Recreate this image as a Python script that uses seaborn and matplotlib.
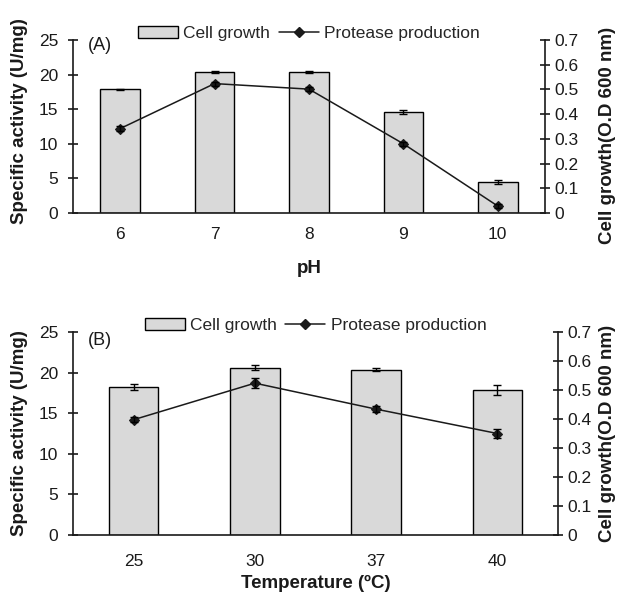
import numpy as np
import matplotlib
matplotlib.use("Agg")
import matplotlib.pyplot as plt
import seaborn as sns
from matplotlib.patches import Patch
from matplotlib.lines import Line2D

# ---- data ----
ph_labels = ["6", "7", "8", "9", "10"]
ph_growth = [0.50, 0.57, 0.57, 0.41, 0.125]          # OD 600 nm (bars, right axis)
ph_growth_err = [0.003, 0.004, 0.003, 0.008, 0.008]
ph_activity = [12.2, 18.7, 17.9, 10.0, 1.0]           # U/mg (line, left axis)
ph_activity_err = [0.3, 0.3, 0.3, 0.3, 0.3]

temp_labels = ["25", "30", "37", "40"]
temp_growth = [0.51, 0.577, 0.57, 0.50]
temp_growth_err = [0.010, 0.008, 0.006, 0.017]
temp_activity = [14.2, 18.7, 15.5, 12.5]
temp_activity_err = [0.3, 0.6, 0.4, 0.6]

left_ticks = [0, 5, 10, 15, 20, 25]
right_ticks = [0, 0.1, 0.2, 0.3, 0.4, 0.5, 0.6, 0.7]
right_ticklabels = ["0", "0.1", "0.2", "0.3", "0.4", "0.5", "0.6", "0.7"]

sns.set_theme(style="white")
plt.rcParams["font.family"] = ["Liberation Sans", "DejaVu Sans"]

W, H = 625, 602
fig = plt.figure(figsize=(W / 100, H / 100), dpi=100)

BAR_COLOR = "#d9d9d9"
LINE_COLOR = "#1a1a1a"


def panel(px_left, px_right, px_top, px_bottom, labels, growth, gerr, act, aerr,
          xlabel, tag, bar_width, xlab_pad, xlabel_y, legend_y, tag_y, rlabel_x,
          llabel_y, rlabel_y):
    rect = [px_left / W, 1 - px_bottom / H, (px_right - px_left) / W,
            (px_bottom - px_top) / H]
    ax = fig.add_axes(rect)
    ax2 = ax.twinx()
    n = len(labels)
    pos = np.arange(n)

    # bars: cell growth on right axis
    sns.barplot(x=labels, y=growth, ax=ax2, color=BAR_COLOR, saturation=1,
                edgecolor="black", linewidth=1.0, width=bar_width, errorbar=None)
    ax2.errorbar(pos, growth, yerr=gerr, fmt="none", ecolor="black",
                 elinewidth=1.0, capsize=3, capthick=1.0)

    # line: protease production on left axis
    sns.pointplot(x=labels, y=act, ax=ax, color=LINE_COLOR, markers="D",
                  markersize=5, linewidth=1.1, errorbar=None)
    ax.errorbar(pos, act, yerr=aerr, fmt="none", ecolor="black",
                elinewidth=1.0, capsize=3, capthick=1.0)

    ax.set_zorder(ax2.get_zorder() + 1)
    ax.patch.set_visible(False)

    ax.set_xlim(-0.5, n - 0.5)
    ax.set_ylim(0, 25)
    ax2.set_ylim(0, 0.7)

    ax.set_xticks(pos)
    ax.set_xticklabels(labels)
    ax.set_xticks(pos[:-1] + 0.5, minor=True)
    ax.tick_params(axis="x", which="major", length=0, pad=xlab_pad,
                   labelsize=12.5, colors="#1a1a1a")
    ax.tick_params(axis="x", which="minor", length=7, width=1.2,
                   direction="inout", color="#1a1a1a")

    ax.set_yticks(left_ticks)
    ax.set_yticklabels([str(t) for t in left_ticks])
    ax.tick_params(axis="y", which="major", left=True, length=7, width=1.2,
                   direction="inout", pad=7, labelsize=12.5, colors="#1a1a1a")
    ax2.set_yticks(right_ticks)
    ax2.set_yticklabels(right_ticklabels)
    ax2.tick_params(axis="y", which="major", right=True, length=7, width=1.2,
                    direction="inout", pad=3, labelsize=12.5, colors="#1a1a1a")

    for a in (ax, ax2):
        a.spines["top"].set_visible(False)
        for s in a.spines.values():
            s.set_linewidth(1.2)
            s.set_color("#1a1a1a")
    ax.spines["right"].set_visible(False)
    ax2.spines["left"].set_visible(False)
    ax2.spines["bottom"].set_visible(False)

    wpx = px_right - px_left
    ax.set_xlabel(xlabel, fontsize=13.5, fontweight="bold", color="#1a1a1a")
    ax.xaxis.set_label_coords(0.5, xlabel_y)
    ax.set_ylabel("Specific activity (U/mg)", fontsize=13.5, fontweight="bold",
                  color="#1a1a1a")
    ax.yaxis.set_label_coords((28 - px_left) / wpx, llabel_y)
    ax2.set_ylabel("Cell growth(O.D 600 nm)", fontsize=13.5, fontweight="bold",
                   color="#1a1a1a")
    ax2.yaxis.set_label_coords(rlabel_x, rlabel_y)

    ax.text((88 - px_left) / wpx, tag_y, tag, transform=ax.transAxes,
            ha="left", va="center", fontsize=13, color="#1a1a1a")

    handles = [
        Patch(facecolor=BAR_COLOR, edgecolor="black", linewidth=1.0),
        Line2D([0], [0], color=LINE_COLOR, marker="D", markersize=5,
               linewidth=1.1),
    ]
    ax.legend(handles, ["Cell growth", "Protease production"], loc="center",
              bbox_to_anchor=(0.5, legend_y), ncol=2, frameon=False,
              fontsize=12.5, handlelength=2.3, handletextpad=0.3,
              columnspacing=0.5, borderaxespad=0)
    return ax, ax2


panel(73, 545, 40, 213, ph_labels, ph_growth, ph_growth_err, ph_activity,
      ph_activity_err, "pH", "(A)", 0.42, xlab_pad=10, xlabel_y=-0.27,
      legend_y=1.04, tag_y=0.97, rlabel_x=(599 - 73) / 472, llabel_y=0.53,
      rlabel_y=0.45)

panel(73, 558, 332, 535, temp_labels, temp_growth, temp_growth_err,
      temp_activity, temp_activity_err, "Temperature (\u00baC)", "(B)", 0.41,
      xlab_pad=14, xlabel_y=-0.195, legend_y=1.034, tag_y=0.956,
      rlabel_x=(599 - 73) / 485, llabel_y=0.5, rlabel_y=0.5)

fig.savefig("out.png", dpi=100, facecolor="white")
